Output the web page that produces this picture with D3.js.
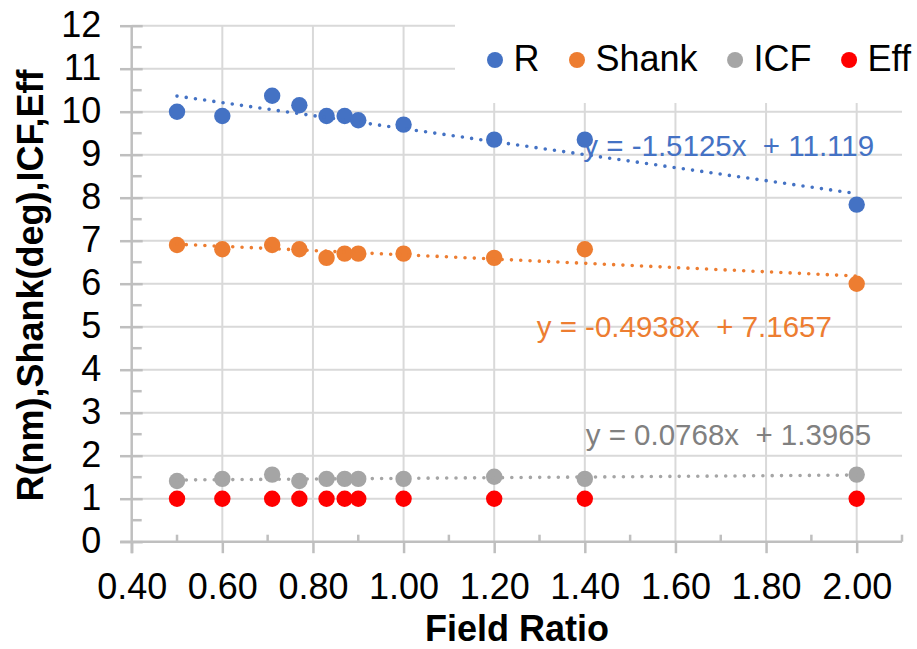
<!DOCTYPE html>
<html>
<head>
<meta charset="utf-8">
<script src="https://cdn.jsdelivr.net/npm/d3@7/dist/d3.min.js"></script>
<style>
  html, body { margin: 0; padding: 0; background: #fff; }
  svg { display: block; font-family: "Liberation Sans", Arial, sans-serif; }
</style>
</head>
<body>
<svg id="chart" width="917" height="649"></svg>
<script>
// ---- data ----
const fieldRatio   = [0.5, 0.6, 0.71, 0.77, 0.83, 0.87, 0.9, 1.0, 1.2, 1.4, 2.0];
const rValues      = [10.0, 9.9, 10.37, 10.15, 9.9, 9.9, 9.8, 9.7, 9.35, 9.35, 7.84];
const shankValues  = [6.9, 6.8, 6.9, 6.8, 6.6, 6.7, 6.7, 6.7, 6.6, 6.8, 6.0];
const icfValues    = [1.41, 1.46, 1.56, 1.41, 1.46, 1.46, 1.46, 1.46, 1.51, 1.46, 1.56];
const effValues    = [1, 1, 1, 1, 1, 1, 1, 1, 1, 1, 1];

const seriesNames  = ["R", "Shank", "ICF", "Eff"];
const seriesColors = ["#4472C4", "#ED7D31", "#A5A5A5", "#FF0000"];

// trendlines (from chart labels): slope, intercept
const trendSlopes     = [-1.5125, -0.4938, 0.0768];
const trendIntercepts = [11.119, 7.1657, 1.3965];
const trendLabels     = ["y = -1.5125x  + 11.119", "y = -0.4938x  + 7.1657", "y = 0.0768x  + 1.3965"];
const trendLabelColors = ["#4472C4", "#ED7D31", "#808080"];

const xTicks = [0.4, 0.6, 0.8, 1.0, 1.2, 1.4, 1.6, 1.8, 2.0];
const xMinorTicks = [0.5, 0.7, 0.9, 1.1, 1.3, 1.5, 1.7, 1.9, 2.1];
const yTicks = [0, 1, 2, 3, 4, 5, 6, 7, 8, 9, 10, 11, 12];
const yMinorTicks = [0.5, 1.5, 2.5, 3.5, 4.5, 5.5, 6.5, 7.5, 8.5, 9.5, 10.5, 11.5];

// ---- layout ----
const svg = d3.select("#chart");
const x = d3.scaleLinear().domain([0.4, 2.1]).range([131.7, 902]);
const y = d3.scaleLinear().domain([0, 12]).range([541.7, 25.7]);

const gridColor = "#D9D9D9";
const axisColor = "#BFBFBF";

// gridlines
svg.append("g").selectAll("line").data(yTicks.slice(1)).join("line")
  .attr("x1", x(0.4)).attr("x2", x(2.1))
  .attr("y1", d => y(d)).attr("y2", d => y(d))
  .attr("stroke", gridColor).attr("stroke-width", 2);
svg.append("g").selectAll("line").data(xTicks.slice(1)).join("line")
  .attr("x1", d => x(d)).attr("x2", d => x(d))
  .attr("y1", y(0)).attr("y2", y(12))
  .attr("stroke", gridColor).attr("stroke-width", 2);

// x axis
const xAxis = svg.append("g").attr("transform", `translate(0,${y(0)})`)
  .call(d3.axisBottom(x).tickValues(xTicks).tickSize(11.5).tickSizeOuter(0).tickFormat(d3.format(".2f")));
xAxis.select(".domain").attr("stroke", axisColor).attr("stroke-width", 2.5)
  .attr("d", `M${x(0.4) - 11.5},0H${x(2.1)}`);
xAxis.selectAll(".tick line").attr("stroke", axisColor).attr("stroke-width", 2.5);
xAxis.selectAll(".tick text").attr("y", 57).attr("dy", 0)
  .attr("font-size", 36).attr("fill", "#000").attr("font-family", "Liberation Sans, Arial, sans-serif");
xAxis.append("g").selectAll("line").data(xMinorTicks).join("line")
  .attr("x1", d => x(d)).attr("x2", d => x(d)).attr("y1", 0).attr("y2", -7)
  .attr("stroke", axisColor).attr("stroke-width", 2.5);

// y axis
const yAxis = svg.append("g").attr("transform", `translate(${x(0.4)},0)`)
  .call(d3.axisLeft(y).tickValues(yTicks).tickSize(11.5).tickSizeOuter(0).tickFormat(d3.format("d")));
yAxis.select(".domain").attr("stroke", axisColor).attr("stroke-width", 2.5)
  .attr("d", `M0,${y(0) + 11.5}V${y(12)}`);
yAxis.selectAll(".tick line").attr("stroke", axisColor).attr("stroke-width", 2.5).attr("x2", 11).attr("x1", -11.7);
yAxis.selectAll(".tick text").attr("x", -30.5).attr("dy", 11)
  .attr("font-size", 36).attr("fill", "#000").attr("font-family", "Liberation Sans, Arial, sans-serif");
yAxis.append("g").selectAll("line").data(yMinorTicks).join("line")
  .attr("x1", 0).attr("x2", 10).attr("y1", d => y(d)).attr("y2", d => y(d))
  .attr("stroke", axisColor).attr("stroke-width", 2.5);

// legend background (covers gridlines)
svg.append("rect").attr("x", 455).attr("y", 18).attr("width", 462).attr("height", 85).attr("fill", "#fff");

// series markers
const allValues = [rValues, shankValues, icfValues, effValues];
allValues.forEach((vals, i) => {
  svg.append("g").selectAll("circle").data(fieldRatio.map((fx, j) => [fx, vals[j]])).join("circle")
    .attr("cx", d => x(d[0])).attr("cy", d => y(d[1])).attr("r", 8.2)
    .attr("fill", seriesColors[i]);
});

// trendlines
trendSlopes.forEach((m, i) => {
  const b = trendIntercepts[i];
  const x0 = d3.min(fieldRatio), x1 = d3.max(fieldRatio);
  svg.append("line")
    .attr("x1", x(x0)).attr("y1", y(m * x0 + b))
    .attr("x2", x(x1)).attr("y2", y(m * x1 + b))
    .attr("stroke", seriesColors[i]).attr("stroke-width", 3.6)
    .attr("stroke-linecap", "round").attr("stroke-dasharray", "0 9.3");
});

// trendline labels
const labelPos = [[583.3, 156], [536.7, 336.7], [585.7, 445]];
trendLabels.forEach((t, i) => {
  svg.append("text").attr("x", labelPos[i][0]).attr("y", labelPos[i][1])
    .attr("font-size", 29.5).attr("fill", trendLabelColors[i])
    .style("white-space", "pre").attr("xml:space", "preserve")
    .text(t);
});

// legend
let lx = 495;
seriesNames.forEach((name, i) => {
  svg.append("circle").attr("cx", lx).attr("cy", 60).attr("r", 8).attr("fill", seriesColors[i]);
  const t = svg.append("text").attr("x", lx + 18.5).attr("y", 70.5)
    .attr("font-size", 36).attr("fill", "#000").text(name);
  lx = lx + 18.5 + t.node().getComputedTextLength() + 37.5;
});

// axis titles
svg.append("text").attr("x", 517).attr("y", 641).attr("text-anchor", "middle")
  .attr("font-size", 36).attr("font-weight", "bold").attr("fill", "#000").text("Field Ratio");
svg.append("text").attr("transform", "translate(43,285.5) rotate(-90)").attr("text-anchor", "middle")
  .attr("font-size", 36).attr("font-weight", "bold").attr("fill", "#000").text("R(nm),Shank(deg),ICF,Eff");
</script>
</body>
</html>
